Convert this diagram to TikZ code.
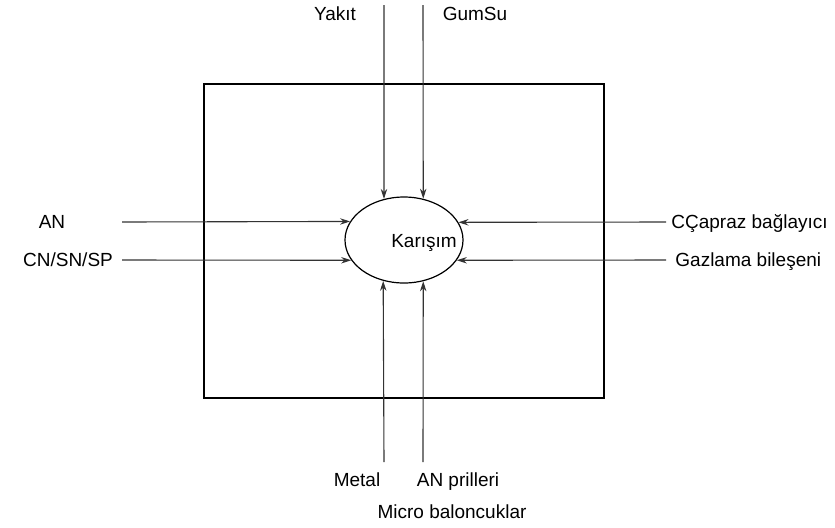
\documentclass[tikz,border=0pt]{standalone}
\usepackage{fontspec}
\setmainfont{Liberation Sans}
\usetikzlibrary{shapes.geometric,arrows.meta}
\begin{document}
\begin{tikzpicture}[x=0.5pt,y=-0.5pt,
  lbl/.style={inner sep=0pt,text height=7pt,text depth=2pt,font=\fontsize{9.5pt}{11pt}\selectfont},
  feed/.style={draw=black!80,line width=0.55pt,-{Stealth[length=5pt,width=3.2pt]}},
  mixbox/.style={draw=black,line width=0.6pt,ellipse,inner sep=0pt,minimum width=59pt,minimum height=43pt}]
\useasboundingbox (0,0) rectangle (835,527);
\node[draw=black,line width=0.75pt,minimum width=200pt,minimum height=157pt,inner sep=0pt] (frame) at (404,241) {};
\node[mixbox] (mix) at (404,240) {};
\node[lbl] (mixlabel) at (424,242) {Karışım};
% sources
\coordinate (s1) at (384,5);
\coordinate (s2) at (423,5);
\coordinate (s3) at (122,222);
\coordinate (s4) at (122,260);
\coordinate (s5) at (666,222);
\coordinate (s6) at (666,260);
\coordinate (s7) at (384,462);
\coordinate (s8) at (423,462);
\draw[feed] (s1) -- (mix.116.3);
\draw[feed] (s2) -- (mix.65);
\draw[feed] (s3) -- (mix.161.4);
\draw[feed] (s4) -- (mix.201);
\draw[feed] (s5) -- (mix.18.6);
\draw[feed] (s6) -- (mix.339);
\draw[feed] (s7) -- (mix.243.7);
\draw[feed] (s8) -- (mix.295);
% labels
\node[lbl] (yakit) at (335,15) {Yakıt};
\node[lbl] (gumsu) at (475,15) {GumSu};
\node[lbl] (an) at (52,223) {AN};
\node[lbl] (cn) at (68,261) {CN/SN/SP};
\node[lbl,anchor=west] (capraz) at (671,223) {CÇapraz bağlayıcı};
\node[lbl,anchor=west] (gaz) at (675,261) {Gazlama bileşeni};
\node[lbl] (metal) at (357,481) {Metal};
\node[lbl] (prill) at (458,481) {AN prilleri};
\node[lbl] (micro) at (452,513) {Micro baloncuklar};
\end{tikzpicture}
\end{document}
